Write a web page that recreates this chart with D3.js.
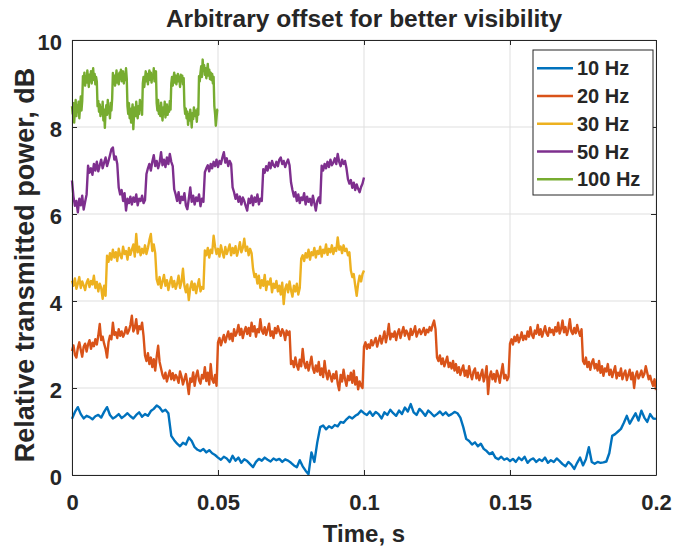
<!DOCTYPE html>
<html>
<head>
<meta charset="utf-8">
<script src="https://cdn.jsdelivr.net/npm/d3@7"></script>
<style>
  body { margin: 0; background: #fff; }
  svg { display: block; font-family: "Liberation Sans", Arial, sans-serif; font-weight: bold; }
</style>
</head>
<body>
<div id="chart"></div>
<script>
// sample spacing of each recording, s
const seriesLabels = ["10 Hz", "20 Hz", "30 Hz", "50 Hz", "100 Hz"];
const sampleStep = [0.001, 0.0005, 0.0005, 0.0005, 0.00025];
const xTicks = [0, 0.05, 0.1, 0.15, 0.2];
const yTicks = [0, 2, 4, 6, 8, 10];

const power10Hz = [
  1.29,1.45,1.56,1.40,1.30,1.36,1.33,1.28,1.35,1.38,
  1.32,1.45,1.56,1.38,1.30,1.34,1.40,1.31,1.36,1.42,
  1.35,1.30,1.38,1.44,1.34,1.40,1.36,1.47,1.52,1.60,
  1.55,1.46,1.50,1.42,0.90,0.80,0.72,0.66,0.74,0.70,
  0.86,0.78,0.64,0.58,0.55,0.60,0.52,0.57,0.50,0.46,
  0.40,0.35,0.42,0.38,0.30,0.44,0.33,0.40,0.28,0.36,
  0.32,0.25,0.18,0.30,0.37,0.33,0.40,0.35,0.31,0.38,
  0.34,0.37,0.30,0.36,0.33,0.28,0.22,0.18,0.34,0.20,
  0.10,0.02,0.52,0.30,0.75,1.10,1.14,1.05,1.12,1.08,
  1.15,1.12,1.22,1.20,1.28,1.34,1.30,1.36,1.40,1.48,
  1.42,1.38,1.46,1.36,1.45,1.40,1.30,1.44,1.38,1.50,
  1.42,1.36,1.48,1.40,1.55,1.46,1.63,1.44,1.38,1.52,
  1.45,1.36,1.48,1.42,1.35,1.40,1.46,1.38,1.44,1.36,
  1.40,1.45,1.42,1.32,1.10,0.83,0.78,0.70,0.75,0.66,
  0.72,0.60,0.55,0.48,0.52,0.40,0.36,0.42,0.35,0.38,
  0.32,0.37,0.30,0.40,0.34,0.42,0.28,0.35,0.38,0.30,
  0.36,0.32,0.40,0.28,0.34,0.30,0.38,0.32,0.25,0.20,
  0.30,0.24,0.14,0.28,0.40,0.22,0.36,0.64,0.30,0.26,
  0.30,0.28,0.29,0.31,0.50,0.90,0.94,1.00,1.06,1.20,
  1.36,1.18,1.30,1.42,1.25,1.48,1.32,1.22,1.40,1.30,
  1.29
];

const power20Hz = [
  2.85,2.98,2.76,2.70,2.92,3.05,2.88,2.72,2.95,3.02,
  2.84,3.00,3.10,2.90,3.04,2.96,3.12,3.00,3.20,3.47,
  3.10,3.18,3.02,2.90,2.70,3.05,3.20,3.12,3.50,3.22,
  3.28,3.15,3.35,3.20,3.30,3.18,3.26,3.40,3.25,3.32,
  3.45,3.66,3.30,3.38,3.58,3.25,3.42,3.35,3.50,3.20,
  2.75,2.62,2.80,2.55,2.70,2.48,2.66,2.40,2.72,2.97,
  2.60,2.45,2.30,2.22,2.35,2.15,2.28,2.40,2.20,2.34,
  2.18,2.30,2.24,2.12,2.38,2.26,2.08,2.20,2.32,2.10,
  1.86,2.22,2.14,2.36,2.05,2.28,2.40,2.18,2.10,2.30,
  2.22,2.48,2.16,2.35,2.08,2.55,2.20,2.12,2.30,2.05,
  3.05,3.15,2.98,3.10,3.22,3.05,3.18,3.30,3.12,3.25,
  3.08,3.35,3.20,3.28,3.45,3.22,3.36,3.15,3.30,3.40,
  3.24,3.38,3.20,3.50,3.30,3.42,3.18,3.35,3.28,3.58,
  3.32,3.25,3.40,3.22,3.35,3.48,3.20,3.30,3.15,3.38,
  3.26,3.42,3.30,3.20,3.35,3.28,3.10,3.32,3.22,3.30,
  2.55,2.62,2.48,2.70,2.52,2.42,2.65,2.50,2.90,2.58,
  2.46,2.60,2.40,2.55,2.72,2.45,2.35,2.52,2.38,2.60,
  2.30,2.45,2.25,2.62,2.35,2.20,2.40,2.28,2.15,2.32,
  2.22,2.38,2.10,1.95,2.30,2.15,2.42,2.20,2.05,2.28,
  2.18,2.35,2.12,2.40,2.08,2.25,1.97,2.15,2.05,2.00,
  2.95,3.05,2.90,3.00,2.92,3.10,2.98,3.06,3.15,2.95,
  3.08,3.20,3.02,3.15,3.30,3.05,3.22,3.47,3.12,3.25,
  3.18,3.30,3.10,3.26,3.35,3.15,3.28,3.40,3.20,3.32,
  3.25,3.12,3.36,3.22,3.30,3.42,3.18,3.28,3.35,3.24,
  3.30,3.38,3.22,3.34,3.28,3.40,3.32,3.45,3.55,3.35,
  2.70,2.62,2.75,2.55,2.68,2.50,2.60,2.72,2.48,2.58,
  2.45,2.62,2.40,2.55,2.35,2.48,2.30,2.42,2.52,2.28,
  2.40,2.25,2.50,2.32,2.20,2.38,2.45,2.22,2.35,2.18,
  2.30,2.42,2.15,2.28,2.50,1.86,2.25,2.38,2.20,2.32,
  2.15,2.40,2.28,2.12,2.35,2.55,2.22,2.30,2.18,2.26,
  3.02,3.12,3.00,3.18,3.08,3.22,3.05,3.15,3.28,3.10,
  3.20,3.12,3.30,3.18,3.40,3.22,3.15,3.32,3.25,3.45,
  3.22,3.35,3.18,3.30,3.42,3.26,3.20,3.38,3.28,3.34,
  3.22,3.40,3.30,3.50,3.25,3.36,3.55,3.28,3.40,3.22,
  3.35,3.58,3.30,3.24,3.38,3.26,3.45,3.30,3.20,3.35,
  2.62,2.55,2.70,2.48,2.60,2.42,2.58,2.66,2.45,2.55,
  2.40,2.62,2.35,2.50,2.28,2.45,2.38,2.55,2.30,2.42,
  2.25,2.38,2.50,2.22,2.35,2.28,2.45,2.20,2.32,2.40,
  2.18,2.30,2.42,2.20,2.35,2.00,2.28,2.38,2.22,2.30,
  2.40,2.25,2.32,2.50,2.35,2.20,2.28,2.15,2.05,2.20,
  1.95
];

const power30Hz = [
  4.47,4.35,4.52,4.28,4.40,4.55,4.30,4.45,4.36,4.25,
  4.42,4.50,4.32,4.46,4.38,4.58,4.30,4.44,4.22,4.40,
  4.30,4.05,4.35,4.12,5.04,4.90,5.10,4.95,5.18,5.00,
  5.12,4.92,5.20,5.05,4.98,5.25,5.08,5.15,4.95,5.22,
  5.06,5.18,5.30,5.02,5.54,5.12,5.25,5.05,5.20,5.10,
  5.28,5.08,5.22,5.40,5.54,5.15,5.30,5.10,4.50,4.38,
  4.55,4.30,4.45,4.60,4.35,4.48,4.25,4.42,4.55,4.32,
  4.46,4.28,4.40,4.58,4.30,4.44,4.74,4.35,4.20,4.38,
  4.02,4.30,4.45,4.25,4.40,4.18,4.35,4.50,4.22,4.32,
  4.28,5.16,5.05,5.22,5.00,5.18,5.10,5.50,5.25,5.08,
  5.20,5.02,5.28,5.12,5.00,5.24,5.08,5.18,5.30,5.05,
  5.22,5.10,5.26,5.04,5.18,5.35,5.12,5.22,5.43,5.15,
  5.25,5.05,5.20,5.10,4.74,4.55,4.62,4.40,4.58,4.30,
  4.48,4.35,4.60,4.25,4.45,4.38,4.52,4.20,4.40,4.30,
  4.46,4.22,4.35,4.15,4.42,3.93,4.28,4.38,4.20,4.45,
  4.25,4.10,4.35,4.22,4.40,4.15,4.30,4.97,5.05,4.92,
  5.10,5.00,5.18,4.95,5.12,5.05,5.22,5.00,5.15,5.08,
  5.25,5.02,5.18,5.10,5.30,5.06,5.20,5.12,5.28,5.08,
  5.22,5.15,5.46,5.18,5.25,5.10,5.28,5.15,5.20,5.05,
  5.12,4.70,4.55,4.62,4.35,4.12,4.40,4.58,4.45,4.62,
  4.70
];

const power50Hz = [
  6.77,6.40,6.19,6.30,6.04,6.35,6.20,6.42,6.10,6.28,
  6.45,7.11,6.95,7.05,6.90,7.15,7.00,7.20,6.98,7.12,
  7.25,7.05,7.18,7.30,7.10,7.22,7.35,7.49,7.53,7.25,
  7.32,7.15,6.61,6.45,6.55,6.30,6.48,6.08,6.35,6.25,
  6.40,6.22,6.38,6.28,6.45,6.20,6.35,6.30,6.42,6.25,
  6.32,6.92,7.05,7.15,7.00,7.20,7.35,7.10,7.22,7.05,
  7.18,7.42,7.12,7.25,7.08,7.30,7.15,7.38,7.20,7.10,
  6.57,6.45,6.30,6.50,6.25,6.40,6.32,6.48,6.20,6.11,
  6.35,6.61,6.28,6.42,6.22,6.38,6.30,6.45,6.18,6.35,
  6.28,6.96,7.05,7.12,6.98,7.15,7.05,7.20,7.10,7.25,
  7.08,7.22,7.15,7.30,7.42,7.18,7.28,7.10,7.22,7.15,
  6.61,6.50,6.35,6.45,6.28,6.40,6.22,6.38,6.30,6.18,
  6.08,6.35,6.25,6.42,6.20,6.38,6.28,6.45,6.22,6.35,
  6.30,7.03,6.95,7.10,7.00,7.18,7.05,7.22,7.12,7.08,
  7.20,7.10,7.25,7.30,7.15,7.22,7.08,7.18,7.25,7.12,
  6.73,6.55,6.40,6.50,6.30,6.45,6.25,6.38,6.32,6.48,
  6.22,6.40,6.28,6.35,6.20,6.42,6.25,6.08,6.30,6.38,
  6.25,7.11,7.00,7.15,7.05,7.20,7.08,7.25,7.12,7.18,
  7.28,7.15,7.38,7.20,7.10,7.25,7.15,7.22,7.05,6.80,
  6.70,6.78,6.60,6.72,6.55,6.68,6.58,6.50,6.62,6.70,
  6.84
];

const power100Hz = [
  8.48,8.30,8.55,8.10,8.40,8.62,8.25,8.50,8.35,8.58,
  8.20,8.45,8.70,8.38,8.60,9.17,9.05,9.25,8.95,9.15,
  9.02,9.30,9.10,8.92,9.20,9.05,9.28,9.00,9.18,9.35,
  9.08,9.22,8.98,9.15,9.05,8.48,8.60,8.35,8.52,8.25,
  8.45,8.30,8.58,8.15,8.40,7.98,8.35,8.50,8.28,8.62,
  8.32,8.45,8.20,8.55,8.38,8.65,9.24,9.05,9.18,8.95,
  9.12,9.30,9.02,9.20,8.98,9.25,9.10,9.32,9.05,9.15,
  9.28,9.00,9.20,9.08,9.35,9.12,8.48,8.30,8.55,8.20,
  8.42,8.10,8.35,8.52,7.95,8.30,8.45,8.25,8.58,8.35,
  8.20,8.48,8.30,8.62,8.40,8.55,8.28,9.00,9.15,8.92,
  9.10,9.28,9.05,9.22,8.98,9.18,9.30,9.08,9.25,9.02,
  9.20,9.12,9.35,9.05,9.18,9.28,8.55,8.38,8.62,8.30,
  8.48,8.25,8.56,8.35,8.15,8.45,8.30,8.58,8.22,8.40,
  8.52,8.28,8.45,8.35,8.60,8.40,9.00,9.15,8.95,9.10,
  9.25,9.02,9.18,8.98,9.12,9.22,9.05,9.15,8.92,9.20,
  9.08,9.18,8.98,9.12,8.48,8.30,8.42,8.20,8.35,8.05,
  8.28,8.15,8.40,8.22,7.99,8.32,8.18,8.45,8.25,8.38,
  8.30,8.12,8.42,8.28,9.17,9.05,9.25,9.40,9.15,9.55,
  9.30,9.42,9.20,9.35,9.12,9.28,9.45,9.18,9.32,9.10,
  9.25,9.08,9.22,9.00,9.15,8.48,8.30,8.03,8.22,8.40,
  8.41
];

const seriesValues = [power10Hz, power20Hz, power30Hz, power50Hz, power100Hz];
const lineColors = ["#0072BD", "#D95319", "#EDB120", "#7E2F8E", "#77AC30"];

const width = 686, height = 546;
const plot = {left: 72, right: 656, top: 40, bottom: 475};
const axisColor = "#262626";

const svg = d3.select("#chart").append("svg")
    .attr("width", width)
    .attr("height", height);

const x = d3.scaleLinear().domain([0, 0.2]).range([plot.left, plot.right]);
const y = d3.scaleLinear().domain([0, 10]).range([plot.bottom, plot.top]);

// grid
svg.append("g").selectAll("line.vg").data(xTicks).enter().append("line")
    .attr("x1", d => x(d)).attr("x2", d => x(d))
    .attr("y1", plot.top).attr("y2", plot.bottom)
    .attr("stroke", "#dfdfdf").attr("stroke-width", 1);
svg.append("g").selectAll("line.hg").data(yTicks).enter().append("line")
    .attr("x1", plot.left).attr("x2", plot.right)
    .attr("y1", d => y(d)).attr("y2", d => y(d))
    .attr("stroke", "#dfdfdf").attr("stroke-width", 1);

// traces
const line = d3.line();
seriesValues.forEach((vals, k) => {
    const step = sampleStep[k];
    svg.append("path")
        .datum(vals)
        .attr("fill", "none")
        .attr("stroke", lineColors[k])
        .attr("stroke-width", 2.4)
        .attr("stroke-linejoin", "round")
        .attr("d", line.x((d, i) => x(i * step)).y(d => y(d)));
});

// axes, ticks pointing inwards
function styleAxis(g) {
    g.selectAll("path.domain").attr("stroke", axisColor).attr("stroke-width", 1);
    g.selectAll(".tick line").attr("stroke", axisColor);
    g.selectAll(".tick text").attr("fill", axisColor)
        .style("font-size", "22px").style("font-weight", "bold")
        .style("font-family", "'Liberation Sans', Arial, sans-serif");
}

svg.append("g").attr("transform", `translate(0,${plot.bottom})`)
    .call(d3.axisBottom(x).tickValues(xTicks).tickFormat(d => String(d))
        .tickSizeInner(-5).tickSizeOuter(0).tickPadding(19))
    .call(styleAxis);
svg.append("g").attr("transform", `translate(${plot.left},0)`)
    .call(d3.axisLeft(y).tickValues(yTicks).tickFormat(d => String(d))
        .tickSizeInner(-5).tickSizeOuter(0).tickPadding(10))
    .call(styleAxis)
    .selectAll(".tick text").attr("dy", "0.42em");
svg.append("g").attr("transform", `translate(0,${plot.top})`)
    .call(d3.axisTop(x).tickValues(xTicks).tickFormat("")
        .tickSizeInner(-5).tickSizeOuter(0))
    .call(styleAxis);
svg.append("g").attr("transform", `translate(${plot.right},0)`)
    .call(d3.axisRight(y).tickValues(yTicks).tickFormat("")
        .tickSizeInner(-5).tickSizeOuter(0))
    .call(styleAxis);

// titles
svg.append("text")
    .attr("x", (plot.left + plot.right) / 2).attr("y", 27)
    .attr("text-anchor", "middle").attr("fill", axisColor)
    .style("font-size", "24.5px")
    .text("Arbitrary offset for better visibility");
svg.append("text")
    .attr("x", 364).attr("y", 542)
    .attr("text-anchor", "middle").attr("fill", axisColor)
    .style("font-size", "24px")
    .text("Time, s");
svg.append("text")
    .attr("transform", "translate(34,265) rotate(-90)")
    .attr("text-anchor", "middle").attr("fill", axisColor)
    .style("font-size", "27px")
    .text("Relative transmitted power, dB");

// legend
const legend = svg.append("g").attr("transform", "translate(533,50)");
legend.append("rect")
    .attr("width", 120).attr("height", 145)
    .attr("fill", "#fff").attr("stroke", axisColor).attr("stroke-width", 1);
const rowH = 27.75;
const items = legend.selectAll("g.item").data(seriesLabels).enter().append("g")
    .attr("transform", (d, i) => `translate(0,${18.3 + i * rowH})`);
items.append("line")
    .attr("x1", 4).attr("x2", 40)
    .attr("stroke", (d, i) => lineColors[i]).attr("stroke-width", 2.4);
items.append("text")
    .attr("x", 44).attr("y", 7)
    .attr("fill", axisColor)
    .style("font-size", "20px")
    .text(d => d);
</script>
</body>
</html>
